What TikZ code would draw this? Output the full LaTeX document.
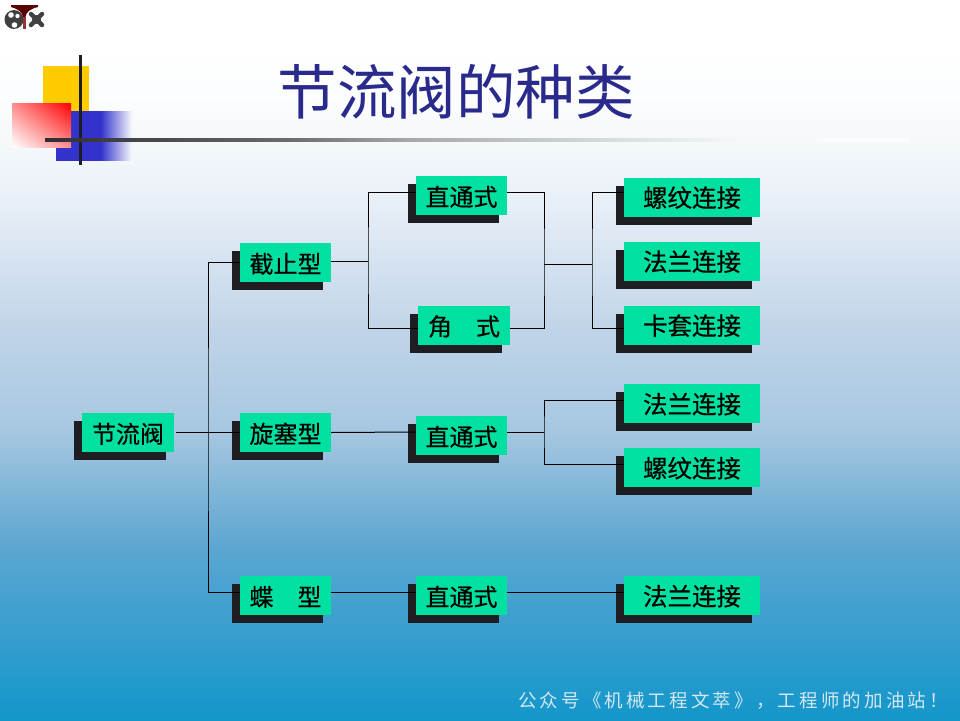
\documentclass[tikz,border=0pt]{standalone}
\usepackage{fontspec}
\newfontfamily\cjk{Noto Sans CJK SC}
\newfontfamily\cjklabel[FakeBold=0.4]{Noto Sans CJK SC}
\newfontfamily\cjkfoot[LetterSpace=17]{Noto Sans CJK SC}
\usetikzlibrary{shadows,shadings,positioning}
\definecolor{boxgreen}{RGB}{0,224,160}
\definecolor{boxshadow}{RGB}{30,30,34}
\definecolor{titleblue}{RGB}{42,42,140}
\definecolor{footgray}{RGB}{212,232,242}
\definecolor{corneryellow}{RGB}{255,204,0}
\pgfdeclareverticalshading{slidefade}{100bp}{
	rgb(0bp)=(0.08,0.59,0.79);
	rgb(25bp)=(0.08,0.59,0.79);
	rgb(27bp)=(0.12,0.60,0.80);
	rgb(37bp)=(0.36,0.65,0.82);
	rgb(45bp)=(0.65,0.78,0.88);
	rgb(52bp)=(0.75,0.83,0.91);
	rgb(61bp)=(0.91,0.94,0.97);
	rgb(65bp)=(0.96,0.975,0.985);
	rgb(68bp)=(0.985,0.99,0.995);
	rgb(72bp)=(1,1,1);
	rgb(100bp)=(1,1,1)}
\pgfdeclarehorizontalshading{rulefade}{100bp}{
	rgb(0bp)=(0.18,0.18,0.2);
	rgb(25bp)=(0.18,0.18,0.2);
	rgb(39bp)=(0.42,0.42,0.43);
	rgb(46bp)=(0.65,0.66,0.66);
	rgb(57bp)=(0.83,0.85,0.85);
	rgb(65bp)=(0.96,0.975,0.985);
	rgb(69bp)=(0.96,0.975,0.985);
	rgb(70bp)=(0.98,0.99,0.995);
	rgb(100bp)=(0.98,0.99,0.995)}
\pgfdeclarehorizontalshading{bluefade}{100bp}{
	rgb(0bp)=(0.2,0.2,0.8);
	rgb(54bp)=(0.2,0.2,0.8);
	rgb(74bp)=(0.96,0.97,0.99);
	rgb(100bp)=(0.96,0.97,0.99)}
\begin{document}
\begin{tikzpicture}
	[x=1pt, y=-1pt,
	valve/.style = {fill=boxgreen, inner sep=0, minimum width=91pt, minimum height=39pt,
		text height=21pt, text depth=0pt,
		font=\cjklabel\fontsize{24}{24}\selectfont,
		drop shadow={shadow xshift=-8pt, shadow yshift=-8pt, fill=boxshadow, opacity=1}},
	joint/.style = {valve, minimum width=136pt, text height=20pt, font=\cjklabel\fontsize{24.5}{24}\selectfont},
	link/.style = {line width=1pt, black}]
	\useasboundingbox (0,0) rectangle (960,720);
	\shade[shading=slidefade] (0,0) rectangle (960,720);
	% logo
	\fill[black!75] (14,19.5) circle (9.5);
	\fill[white] (11,15) circle (2.8) (17.5,16) circle (2.2) (14.5,25) circle (2.8);
	\fill[black!75] (36.5,19.5) circle (4.5);
	\draw[black!75, line width=4.5pt, line cap=round] (31,14) -- (42,25) (42,14) -- (31,25);
	\fill[red!35!black] (11,5) -- (38,5) -- (38,7) .. controls (30,9) and (26,12) .. (25.5,17) -- (23,17) .. controls (22.5,12) and (18,9) .. (11,7) -- cycle;
	\fill[red!50!black!80!white] (23,17) rectangle (25.5,29);
	% corner squares
	\fill[corneryellow] (43,66) rectangle (89,111);
	\shade[shading=bluefade] (56,111) rectangle (133,160);
	\shade[lower left=white, upper right=red, lower right=red!45!white, upper left=red!45!white] (12,103) rectangle (71,147);
	\fill[boxshadow] (78.5,55) rectangle (81.5,165);
	\shade[shading=rulefade] (45,138) rectangle (910,141);
	\node (title) at (456,92) [text=titleblue, inner sep=0, font=\cjk\fontsize{59.5}{60}\selectfont] {节流阀的种类};
	% boxes
	\node (jieliu) at (128,432.5) [valve, minimum width=92pt] {节流阀};
	\node (jiezhi) at (285.5,262.5) [valve] {截止型};
	\node (xuansai) at (285.5,432.5) [valve] {旋塞型};
	\node (die) at (285.5,595.5) [valve] {蝶　型};
	\node (zta) at (461.5,195.5) [valve] {直通式};
	\node (jiao) at (464,325) [valve, minimum width=92pt] {角　式};
	\node (ztb) at (461.5,435.5) [valve] {直通式};
	\node (ztc) at (461.5,595.5) [valve] {直通式};
	\node (lwa) at (692,197) [joint] {螺纹连接};
	\node (fla) at (692,261) [joint] {法兰连接};
	\node (kt) at (692,325) [joint] {卡套连接};
	\node (flb) at (692,403.5) [joint] {法兰连接};
	\node (lwb) at (692,467.5) [joint] {螺纹连接};
	\node (flc) at (692,595.5) [joint] {法兰连接};
	% connectors
	\coordinate (busa) at (208,432);
	\coordinate (busb) at (368,261);
	\coordinate (busc) at (544,264);
	\coordinate (busd) at (592,264);
	\coordinate (buse) at (544,432);
	\draw[link] ([xshift=2pt]jieliu.east) -- (xuansai.west);
	\draw[link] (jiezhi.west) -| (busa) |- ([yshift=3.5pt]die.west);
	\draw[link] ([yshift=1.5pt]jiezhi.east) -- (busb);
	\draw[link] ([yshift=3.5pt]zta.west) -| (busb) |- ([yshift=-3pt]jiao.west);
	\draw[link] ([yshift=3.5pt]zta.east) -| (busc) |- ([yshift=-3pt]jiao.east);
	\draw[link] (busc) -- (busd);
	\draw[link] ([yshift=5pt]lwa.west) -| (busd) |- ([yshift=-3pt]kt.west);
	\draw[link] (xuansai.east) -- ([yshift=3.5pt]ztb.west);
	\draw[link] ([yshift=3.5pt]ztb.east) -- (buse);
	\draw[link] ([yshift=3.5pt]flb.west) -| (buse) |- ([yshift=3.5pt]lwb.west);
	\draw[link] ([yshift=3.5pt]die.east) -- ([yshift=3.5pt]ztc.west);
	\draw[link] ([yshift=3.5pt]ztc.east) -- ([yshift=3.5pt]flc.west);
	\node (foot) at (733,701) [text=footgray, inner sep=0, font=\fontsize{18.5}{20}\selectfont] {\cjkfoot 公众号《机械工程文萃》，工程师的加油站！};
\end{tikzpicture}
\end{document}
